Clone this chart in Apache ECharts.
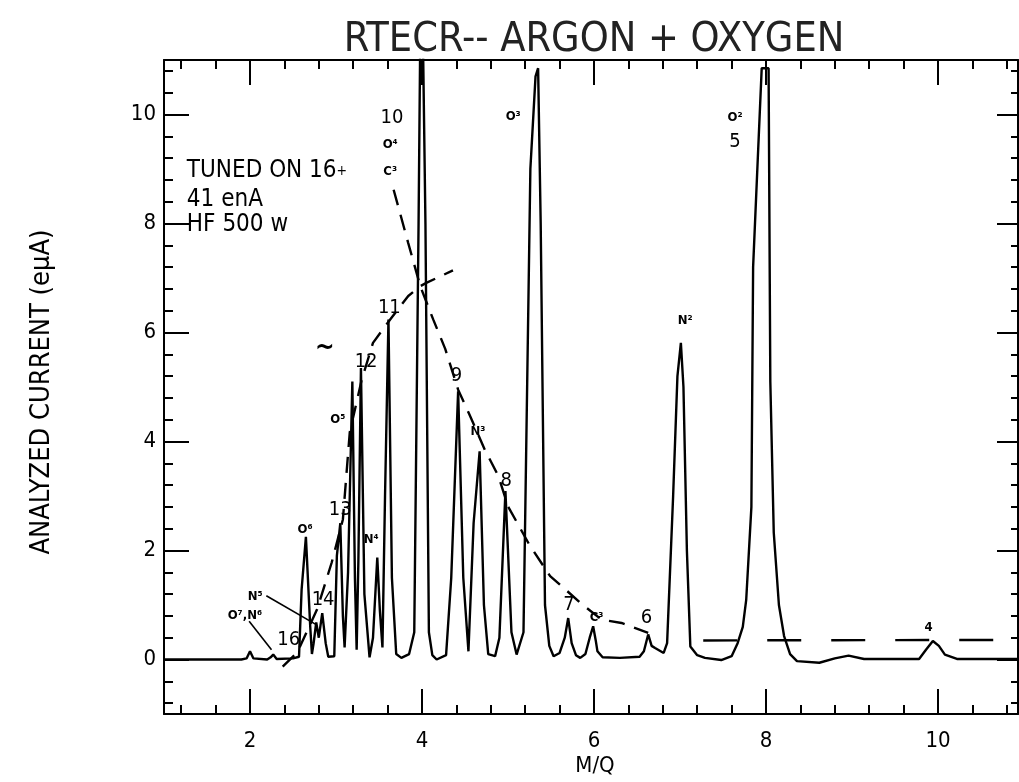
<!DOCTYPE html>
<html lang="en">
<head>
    <meta charset="UTF-8">
    <title>RTECR-- ARGON + OXYGEN</title>
    <script src="https://cdn.jsdelivr.net/npm/echarts@6/dist/echarts.min.js"></script>
    <style>
        html, body { margin: 0; padding: 0; background: #fff; }
    </style>
</head>
<body>
    <div id="main" style="width:1019px;height:782px;"></div>
    <script type="text/javascript">
        // spectrum: [M/Q, current eµA]
        var spectrum = [
            [1.00, 0.00], [1.90, 0.00], [1.96, 0.02], [2.00, 0.15], [2.04, 0.02], [2.20, 0.00],
            [2.24, 0.04], [2.27, 0.09], [2.31, 0.01], [2.50, 0.02], [2.57, 0.05], [2.60, 1.28],
            [2.65, 2.25], [2.70, 0.61], [2.72, 0.10], [2.74, 0.30], [2.77, 0.68], [2.80, 0.40],
            [2.84, 0.85], [2.88, 0.30], [2.91, 0.05], [2.98, 0.06], [3.01, 1.90], [3.05, 2.50],
            [3.08, 0.80], [3.10, 0.22], [3.14, 1.60], [3.19, 5.10], [3.22, 1.50], [3.24, 0.18],
            [3.26, 1.80], [3.29, 5.35], [3.33, 1.20], [3.39, 0.04], [3.43, 0.40], [3.48, 1.87],
            [3.51, 0.90], [3.54, 0.22], [3.57, 3.00], [3.61, 6.24], [3.65, 1.50], [3.70, 0.10],
            [3.76, 0.03], [3.85, 0.10], [3.91, 0.50], [3.96, 8.00], [3.98, 11.5], [4.01, 11.5],
            [4.04, 8.00], [4.08, 0.50], [4.12, 0.08], [4.17, 0.00], [4.28, 0.08], [4.34, 1.50],
            [4.42, 4.92], [4.48, 1.50], [4.54, 0.15], [4.60, 2.50], [4.67, 3.82], [4.72, 1.00],
            [4.77, 0.10], [4.85, 0.06], [4.90, 0.40], [4.97, 3.09], [5.04, 0.50], [5.10, 0.09],
            [5.18, 0.50], [5.26, 9.00], [5.32, 10.7], [5.35, 10.85], [5.38, 8.00], [5.43, 1.00],
            [5.48, 0.25], [5.53, 0.06], [5.60, 0.12], [5.66, 0.40], [5.70, 0.76], [5.74, 0.30],
            [5.79, 0.08], [5.84, 0.03], [5.90, 0.10], [5.95, 0.40], [5.99, 0.61], [6.02, 0.35],
            [6.04, 0.15], [6.10, 0.04], [6.30, 0.03], [6.53, 0.05], [6.58, 0.15], [6.63, 0.46],
            [6.67, 0.25], [6.71, 0.21], [6.81, 0.12], [6.85, 0.30], [6.92, 3.00], [6.97, 5.20],
            [7.01, 5.81], [7.04, 5.00], [7.08, 2.00], [7.12, 0.24], [7.20, 0.08], [7.29, 0.03],
            [7.48, -0.01], [7.60, 0.06], [7.67, 0.30], [7.73, 0.60], [7.77, 1.10], [7.83, 2.80],
            [7.85, 7.20], [7.91, 9.40], [7.95, 10.85], [8.03, 10.85], [8.05, 5.10], [8.09, 2.33],
            [8.15, 1.00], [8.21, 0.43], [8.28, 0.10], [8.36, -0.03], [8.62, -0.06], [8.80, 0.02],
            [8.96, 0.07], [9.14, 0.01], [9.78, 0.01], [9.86, 0.18], [9.94, 0.34], [10.01, 0.25],
            [10.08, 0.09], [10.22, 0.01], [10.95, 0.01]
        ];

        // dashed envelopes through the argon charge states
        var envelopeRise = [
            [2.38, -0.13], [2.55, 0.13], [2.78, 0.92], [2.95, 1.78], [3.08, 2.57], [3.16, 4.17],
            [3.30, 5.14], [3.43, 5.81], [3.63, 6.24], [3.84, 6.67], [3.98, 6.85], [4.05, 6.91], [4.36, 7.14]
        ];
        var envelopeFall = [
            [3.67, 8.62], [3.84, 7.64], [3.98, 6.85], [4.13, 6.24], [4.27, 5.70], [4.42, 4.95],
            [4.55, 4.50], [4.73, 3.85], [4.89, 3.36], [5.00, 2.81], [5.25, 2.10], [5.49, 1.53],
            [5.60, 1.38], [5.84, 1.04], [6.09, 0.73], [6.32, 0.67], [6.63, 0.49]
        ];
        var envelopeTail = [[7.27, 0.35], [10.95, 0.36]];

        // leader lines for the small labels
        var leaderN5 = [[2.19, 1.17], [2.77, 0.64]];
        var leaderO7 = [[1.99, 0.70], [2.25, 0.18]];

        // peak annotations [x, y, text]
        var bigLabels = [
            [3.65, 9.94, '10'], [3.62, 6.46, '11'], [3.35, 5.47, '12'], [3.05, 2.75, '13'],
            [2.85, 1.10, '14'], [2.45, 0.37, '16'], [4.40, 5.20, '9'], [4.98, 3.27, '8'],
            [5.71, 1.01, '7'], [6.61, 0.76, '6'], [7.64, 9.50, '5']
        ];
        var smallLabels = [
            [3.63, 9.45, 'O⁴'], [3.63, 8.95, 'C³'], [5.06, 9.96, 'O³'], [7.64, 9.94, 'O²'],
            [7.06, 6.21, 'N²'], [3.02, 4.40, 'O⁵'], [3.41, 2.20, 'N⁴'], [2.64, 2.39, 'O⁶'],
            [2.06, 1.16, 'N⁵'], [1.94, 0.80, 'O⁷,N⁶'], [4.65, 4.19, 'N³'], [6.03, 0.76, 'C³'],
            [9.89, 0.58, '4']
        ];
        var squiggle = [[2.87, 5.72, '~']];
        var noteLines = ['TUNED ON 16{p|+}', '41 enA', 'HF 500 w'];
        var noteY = [8.96, 8.44, 7.98];

        var majorX = [2, 4, 6, 8, 10];
        var minorX = [1.2, 1.6, 2.4, 2.8, 3.2, 3.6, 4.4, 4.8, 5.2, 5.6, 6.4, 6.8, 7.2, 7.6,
                      8.4, 8.8, 9.2, 9.6, 10.4, 10.8];
        var majorY = [0, 2, 4, 6, 8, 10];
        var minorY = [-0.8, -0.4, 0.4, 0.8, 1.2, 1.6, 2.4, 2.8, 3.2, 3.6, 4.4, 4.8, 5.2, 5.6,
                      6.4, 6.8, 7.2, 7.6, 8.4, 8.8, 9.2, 9.6, 10.4, 10.8];

        var FONT = '"DejaVu Sans Condensed", "Liberation Sans Narrow", "DejaVu Sans", sans-serif';
        var INK = '#000';

        function makeX(pos, ticks, len, showLine, showLabel) {
            return {
                type: 'value', min: 1, max: 10.93, position: pos,
                axisLine: { show: showLine, onZero: false, lineStyle: { color: INK, width: 2 } },
                axisTick: { show: true, inside: true, length: len, customValues: ticks,
                            lineStyle: { color: INK, width: 2 } },
                axisLabel: { show: showLabel, customValues: ticks, margin: 16,
                             fontSize: 22, fontFamily: FONT, color: INK },
                splitLine: { show: false }
            };
        }
        function makeY(pos, ticks, len, showLine, showLabel) {
            return {
                type: 'value', min: -1, max: 11, position: pos,
                axisLine: { show: showLine, onZero: false, lineStyle: { color: INK, width: 2 } },
                axisTick: { show: true, inside: true, length: len, customValues: ticks,
                            lineStyle: { color: INK, width: 2 } },
                axisLabel: { show: showLabel, customValues: ticks, margin: 8,
                             fontSize: 22, fontFamily: FONT, color: INK },
                splitLine: { show: false }
            };
        }

        function labelSeries(list, size, weight) {
            return {
                type: 'scatter', symbol: 'circle', symbolSize: 1, silent: true,
                itemStyle: { color: 'rgba(0,0,0,0)', opacity: 1 },
                data: list.map(function (d) { return { value: [d[0], d[1]], name: d[2] }; }),
                label: {
                    show: true, position: 'inside', formatter: '{b}',
                    fontSize: size, fontWeight: weight, fontFamily: FONT, color: INK
                }
            };
        }
        function lineSeries(data, width, dash) {
            return {
                type: 'line', data: data, showSymbol: false, silent: true,
                lineStyle: { color: INK, width: width, type: dash || 'solid' }
            };
        }

        var myChart = echarts.init(document.getElementById('main'));
        var option = {
            animation: false,
            backgroundColor: '#fff',
            grid: { left: 164, right: 1, top: 60, bottom: 68, containLabel: false },
            xAxis: [
                makeX('bottom', majorX, 25, true, true),
                makeX('bottom', minorX, 9, false, false),
                makeX('top', majorX, 25, true, false),
                makeX('top', minorX, 9, false, false)
            ],
            yAxis: [
                makeY('left', majorY, 25, true, true),
                makeY('left', minorY, 9, false, false),
                makeY('right', majorY, 21, true, false),
                makeY('right', minorY, 7, false, false)
            ],
            graphic: [
                { type: 'text', x: 594, y: 40, silent: true,
                  style: { text: 'RTECR-- ARGON + OXYGEN', font: '41px ' + FONT, fill: '#222',
                           align: 'center', verticalAlign: 'middle' } },
                { type: 'text', x: 595, y: 766, silent: true,
                  style: { text: 'M/Q', font: '22px ' + FONT, fill: INK,
                           align: 'center', verticalAlign: 'middle' } },
                { type: 'text', x: 42, y: 392, rotation: Math.PI / 2, silent: true,
                  style: { text: 'ANALYZED CURRENT (eµA)', font: '27px ' + FONT, fill: INK,
                           align: 'center', verticalAlign: 'middle' } }
            ],
            series: [
                lineSeries(spectrum, 2.4),
                lineSeries(envelopeRise, 2.4, [16, 10]),
                lineSeries(envelopeFall, 2.4, [16, 10]),
                lineSeries(envelopeTail, 2.4, [34, 30]),
                lineSeries(leaderN5, 1.6),
                lineSeries(leaderO7, 1.6),
                labelSeries(bigLabels, 20, 'normal'),
                labelSeries(smallLabels, 13, 'bold'),
                labelSeries(squiggle, 26, 'bold'),
                {
                    type: 'scatter', symbolSize: 1, silent: true,
                    itemStyle: { color: 'rgba(0,0,0,0)', opacity: 1 },
                    data: noteLines.map(function (t, i) { return { value: [1.26, noteY[i]], name: t }; }),
                    label: { show: true, position: 'right', distance: 0, formatter: '{b}',
                             fontSize: 24, fontFamily: FONT, color: INK,
                             rich: { p: { fontSize: 14, fontFamily: FONT, color: INK } } }
                }
            ]
        };

        myChart.setOption(option);
    </script>
</body>
</html>
